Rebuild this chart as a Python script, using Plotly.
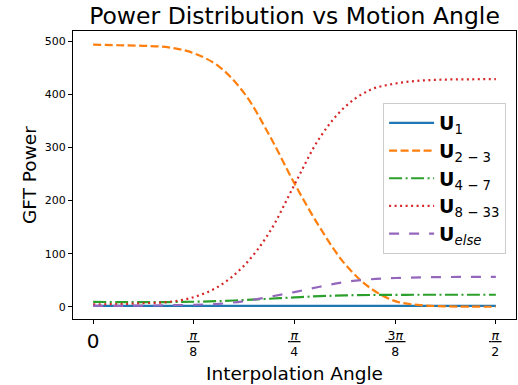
import math
import plotly.graph_objects as go

# Angles: k * pi/32, k = 0..16
angles = [k * math.pi / 32 for k in range(17)]

u1 = [2.0, 2.0, 2.0, 2.1, 2.1, 2.2, 2.2, 2.2, 2.2, 2.2, 2.1, 2.1, 2.0, 2.0, 2.0, 2.0, 2.0]
u2_3 = [493, 492, 491, 488, 477, 452, 402, 323, 232, 150, 81, 36, 11, 3.5, 1.2, 0.6, 0.4]
u4_7 = [9.5, 9.3, 9.2, 9.3, 9.8, 11, 13, 15.5, 18, 20.3, 21.8, 22.5, 22.8, 23, 23, 23, 23]
u8_33 = [5, 5.5, 7, 9.5, 18.5, 39, 78, 140, 230, 318, 376, 408, 420, 425.5, 427.5, 428, 428.5]
u_else = [2, 2.2, 2.6, 3.2, 4.2, 6, 11, 19, 28, 38, 47, 52, 54.5, 55.7, 56.3, 56.5, 56.6]

names = ["<b>U</b><sub>1</sub>", "<b>U</b><sub>2 − 3</sub>", "<b>U</b><sub>4 − 7</sub>",
         "<b>U</b><sub>8 − 33</sub>", "<b>U</b><sub><i>else</i></sub>"]
series = [u1, u2_3, u4_7, u8_33, u_else]
colors = ["#1f77b4", "#ff7f0e", "#2ca02c", "#d62728", "#9467bd"]
dashes = ["solid", "8px,3.5px", "13px,3.5px,2px,3.5px", "2px,3.5px", "10px,10px"]

tick_vals = [0, math.pi / 8, math.pi / 4, 3 * math.pi / 8, math.pi / 2]
# numerator / denominator of each tick label (fractions of pi)
tick_num = ["0", "<i>π</i>", "<i>π</i>", "3<i>π</i>", "<i>π</i>"]
tick_den = ["", "8", "4", "8", "2"]

fig = go.Figure()
for name, ys, c, d in zip(names, series, colors, dashes):
    fig.add_trace(go.Scatter(x=angles, y=ys, mode="lines", name=name,
                             line=dict(color=c, width=2.2, dash=d, shape="spline")))

font = "DejaVu Sans"
fig.update_layout(
    width=518, height=385,
    margin=dict(l=73, r=2, t=31, b=66),
    paper_bgcolor="white", plot_bgcolor="white",
    font=dict(family=font, color="black"),
    title=dict(text="Power Distribution vs Motion Angle", font=dict(size=23.5, family=font),
               x=0.5, xanchor="center", y=1 - 16 / 385, yanchor="middle", xref="paper"),
    showlegend=True,
    legend=dict(x=0.70, y=0.75, xanchor="left", yanchor="top", itemwidth=45,
                bgcolor="rgba(255,255,255,0.8)", bordercolor="#cccccc", borderwidth=1,
                font=dict(size=19, family=font)),
)
# plain tick label for 0; the pi fractions are drawn as stacked annotations below
tick_text = [tick_num[0]] + ["" for _ in tick_vals[1:]]
fig.update_xaxes(range=[-0.0785, 1.6493], tickmode="array", tickvals=tick_vals, ticktext=tick_text,
                 showgrid=False, zeroline=False, showline=True, mirror=True, linecolor="black",
                 linewidth=1, ticks="outside", ticklen=4, tickwidth=1, tickcolor="black",
                 ticklabelstandoff=0, tickfont=dict(size=20, family=font))
fig.update_yaxes(range=[-22.6, 518.8], tickvals=[0, 100, 200, 300, 400, 500],
                 showgrid=False, zeroline=False, showline=True, mirror=True, linecolor="black",
                 linewidth=1, ticks="outside", ticklen=4, tickwidth=1, tickcolor="black",
                 tickfont=dict(size=11, family=font))
for v, n, d in zip(tick_vals, tick_num, tick_den):
    if not d:
        continue
    fig.add_annotation(text=f"<u>\u2009{n}\u2009</u><br>{d}", x=v, y=-(326 - 319) / 288,
                       xref="x", yref="paper", xanchor="center", yanchor="top", showarrow=False,
                       font=dict(size=12.5, family=font))
fig.add_annotation(text="Interpolation Angle", x=0.5, y=-(373 - 319) / 288, xref="paper", yref="paper",
                   xanchor="center", yanchor="middle", showarrow=False, font=dict(size=18.5, family=font))
fig.add_annotation(text="GFT Power", x=-(73 - 29) / 443, y=0.5, xref="paper", yref="paper",
                   xanchor="center", yanchor="middle", textangle=-90, showarrow=False,
                   font=dict(size=18.5, family=font))
fig.write_html("out.html")
